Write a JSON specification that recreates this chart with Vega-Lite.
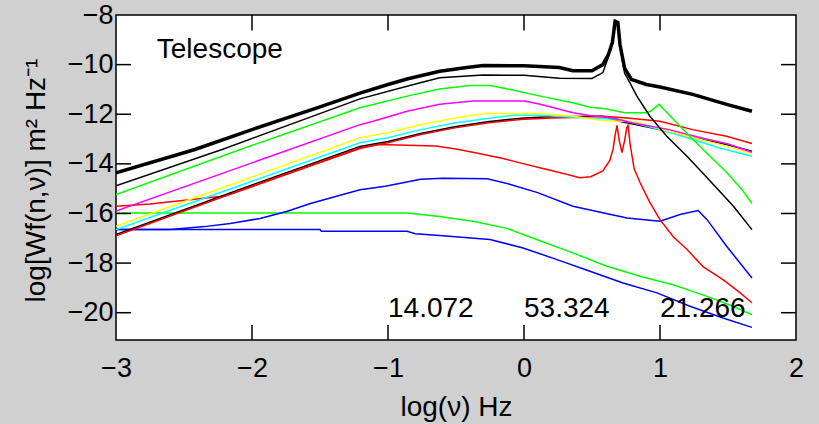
{
  "$schema": "https://vega.github.io/schema/vega-lite/v6.json",
  "width": 680,
  "height": 325,
  "autosize": "none",
  "padding": {"left": 116, "top": 15, "right": 23, "bottom": 84},
  "background": "#d0d0d0",
  "config": {
    "view": {"fill": "white", "stroke": "black", "strokeWidth": 1.5},
    "font": "Liberation Sans",
    "axis": {
      "grid": false,
      "domain": false,
      "ticks": false,
      "labelColor": "black",
      "labelFont": "Liberation Sans",
      "labelFontSize": 27,
      "labelOverlap": false,
      "labelFlush": false,
      "titleFont": "Liberation Sans",
      "titleFontSize": 28,
      "titleFontWeight": "normal",
      "titleColor": "black"
    }
  },
  "datasets": {
    "curves": [
      {"s": "blue2", "x": -3, "y": -16.65}, {"s": "blue2", "x": -1.5, "y": -16.65}, {"s": "blue2", "x": -1.49, "y": -16.72}, {"s": "blue2", "x": -0.86, "y": -16.72}, {"s": "blue2", "x": -0.8, "y": -16.82}, {"s": "blue2", "x": -0.62, "y": -16.89}, {"s": "blue2", "x": -0.25, "y": -17.05}, {"s": "blue2", "x": -0.007, "y": -17.39}, {"s": "blue2", "x": 0.243, "y": -17.86}, {"s": "blue2", "x": 0.485, "y": -18.33}, {"s": "blue2", "x": 0.728, "y": -18.8}, {"s": "blue2", "x": 0.978, "y": -19.2}, {"s": "blue2", "x": 1.22, "y": -19.74}, {"s": "blue2", "x": 1.463, "y": -20.21}, {"s": "blue2", "x": 1.676, "y": -20.59},

      {"s": "green2", "x": -3, "y": -15.98}, {"s": "green2", "x": -0.86, "y": -15.98}, {"s": "green2", "x": -0.62, "y": -16.12}, {"s": "green2", "x": -0.375, "y": -16.31}, {"s": "green2", "x": -0.125, "y": -16.6}, {"s": "green2", "x": 0.118, "y": -17.1}, {"s": "green2", "x": 0.36, "y": -17.59}, {"s": "green2", "x": 0.61, "y": -18.13}, {"s": "green2", "x": 0.853, "y": -18.53}, {"s": "green2", "x": 1.096, "y": -18.87}, {"s": "green2", "x": 1.346, "y": -19.34}, {"s": "green2", "x": 1.537, "y": -19.74}, {"s": "green2", "x": 1.676, "y": -20.08},

      {"s": "blue1", "x": -3, "y": -16.65}, {"s": "blue1", "x": -2.6, "y": -16.65}, {"s": "blue1", "x": -2.35, "y": -16.53}, {"s": "blue1", "x": -2.16, "y": -16.4}, {"s": "blue1", "x": -1.94, "y": -16.2}, {"s": "blue1", "x": -1.74, "y": -15.91}, {"s": "blue1", "x": -1.57, "y": -15.6}, {"s": "blue1", "x": -1.206, "y": -15.04}, {"s": "blue1", "x": -1.02, "y": -14.9}, {"s": "blue1", "x": -0.76, "y": -14.62}, {"s": "blue1", "x": -0.6, "y": -14.58}, {"s": "blue1", "x": -0.27, "y": -14.6}, {"s": "blue1", "x": -0.1, "y": -14.83}, {"s": "blue1", "x": 0.1, "y": -15.16}, {"s": "blue1", "x": 0.36, "y": -15.71}, {"s": "blue1", "x": 0.757, "y": -16.18}, {"s": "blue1", "x": 1.0, "y": -16.31}, {"s": "blue1", "x": 1.147, "y": -16.04}, {"s": "blue1", "x": 1.28, "y": -15.88}, {"s": "blue1", "x": 1.346, "y": -16.25}, {"s": "blue1", "x": 1.49, "y": -17.32}, {"s": "blue1", "x": 1.676, "y": -18.6},

      {"s": "red2", "x": -3, "y": -15.71}, {"s": "red2", "x": -2.75, "y": -15.62}, {"s": "red2", "x": -2.46, "y": -15.45}, {"s": "red2", "x": -2.2, "y": -15.3}, {"s": "red2", "x": -2.0, "y": -14.92}, {"s": "red2", "x": -1.5, "y": -13.95}, {"s": "red2", "x": -1.2, "y": -13.37}, {"s": "red2", "x": -1.07, "y": -13.22}, {"s": "red2", "x": -0.65, "y": -13.28}, {"s": "red2", "x": -0.5, "y": -13.4}, {"s": "red2", "x": -0.35, "y": -13.56}, {"s": "red2", "x": -0.17, "y": -13.76}, {"s": "red2", "x": -0.03, "y": -13.96}, {"s": "red2", "x": 0.17, "y": -14.23}, {"s": "red2", "x": 0.32, "y": -14.43}, {"s": "red2", "x": 0.41, "y": -14.56}, {"s": "red2", "x": 0.49, "y": -14.52}, {"s": "red2", "x": 0.58, "y": -14.28}, {"s": "red2", "x": 0.632, "y": -13.85}, {"s": "red2", "x": 0.655, "y": -13.4}, {"s": "red2", "x": 0.668, "y": -12.9}, {"s": "red2", "x": 0.684, "y": -12.45}, {"s": "red2", "x": 0.7, "y": -13.05}, {"s": "red2", "x": 0.72, "y": -13.55}, {"s": "red2", "x": 0.74, "y": -13.05}, {"s": "red2", "x": 0.755, "y": -12.55}, {"s": "red2", "x": 0.765, "y": -12.45}, {"s": "red2", "x": 0.78, "y": -13.2}, {"s": "red2", "x": 0.81, "y": -14.2}, {"s": "red2", "x": 0.853, "y": -14.75}, {"s": "red2", "x": 0.926, "y": -15.56}, {"s": "red2", "x": 1.0, "y": -16.25}, {"s": "red2", "x": 1.096, "y": -16.93}, {"s": "red2", "x": 1.199, "y": -17.45}, {"s": "red2", "x": 1.316, "y": -18.14}, {"s": "red2", "x": 1.463, "y": -18.67}, {"s": "red2", "x": 1.588, "y": -19.19}, {"s": "red2", "x": 1.676, "y": -19.6},

      {"s": "black2", "x": -3, "y": -16.85}, {"s": "black2", "x": -2, "y": -14.85}, {"s": "black2", "x": -1.206, "y": -13.3}, {"s": "black2", "x": -1.0, "y": -13.1}, {"s": "black2", "x": -0.76, "y": -12.78}, {"s": "black2", "x": -0.51, "y": -12.5}, {"s": "black2", "x": -0.27, "y": -12.3}, {"s": "black2", "x": 0.0, "y": -12.15}, {"s": "black2", "x": 0.2, "y": -12.1}, {"s": "black2", "x": 0.58, "y": -12.08}, {"s": "black2", "x": 0.7, "y": -12.28}, {"s": "black2", "x": 1.0, "y": -12.62}, {"s": "black2", "x": 1.24, "y": -12.95}, {"s": "black2", "x": 1.49, "y": -13.22}, {"s": "black2", "x": 1.676, "y": -13.49},

      {"s": "red1", "x": -3, "y": -16.9}, {"s": "red1", "x": -2, "y": -14.9}, {"s": "red1", "x": -1.206, "y": -13.35}, {"s": "red1", "x": -1.0, "y": -13.15}, {"s": "red1", "x": -0.76, "y": -12.82}, {"s": "red1", "x": -0.51, "y": -12.55}, {"s": "red1", "x": -0.27, "y": -12.35}, {"s": "red1", "x": -0.03, "y": -12.21}, {"s": "red1", "x": 0.2, "y": -12.15}, {"s": "red1", "x": 0.45, "y": -12.12}, {"s": "red1", "x": 0.58, "y": -12.08}, {"s": "red1", "x": 0.76, "y": -12.15}, {"s": "red1", "x": 1.0, "y": -12.28}, {"s": "red1", "x": 1.24, "y": -12.62}, {"s": "red1", "x": 1.49, "y": -12.89}, {"s": "red1", "x": 1.676, "y": -13.18},

      {"s": "cyan", "x": -3, "y": -16.65}, {"s": "cyan", "x": -2, "y": -14.7}, {"s": "cyan", "x": -1.206, "y": -13.15}, {"s": "cyan", "x": -1.0, "y": -12.95}, {"s": "cyan", "x": -0.76, "y": -12.62}, {"s": "cyan", "x": -0.51, "y": -12.35}, {"s": "cyan", "x": -0.27, "y": -12.17}, {"s": "cyan", "x": -0.07, "y": -12.04}, {"s": "cyan", "x": 0.12, "y": -12.04}, {"s": "cyan", "x": 0.45, "y": -12.15}, {"s": "cyan", "x": 0.7, "y": -12.2}, {"s": "cyan", "x": 1.0, "y": -12.62}, {"s": "cyan", "x": 1.2, "y": -12.95}, {"s": "cyan", "x": 1.44, "y": -13.36}, {"s": "cyan", "x": 1.676, "y": -13.69},

      {"s": "yellow", "x": -3, "y": -16.52}, {"s": "yellow", "x": -2, "y": -14.53}, {"s": "yellow", "x": -1.206, "y": -12.95}, {"s": "yellow", "x": -1.0, "y": -12.75}, {"s": "yellow", "x": -0.76, "y": -12.42}, {"s": "yellow", "x": -0.51, "y": -12.15}, {"s": "yellow", "x": -0.29, "y": -11.97}, {"s": "yellow", "x": 0.12, "y": -11.97}, {"s": "yellow", "x": 0.36, "y": -12.08}, {"s": "yellow", "x": 0.58, "y": -12.25}, {"s": "yellow", "x": 0.82, "y": -12.3}, {"s": "yellow", "x": 1.0, "y": -12.59}, {"s": "yellow", "x": 1.2, "y": -12.89}, {"s": "yellow", "x": 1.44, "y": -13.22}, {"s": "yellow", "x": 1.676, "y": -13.58},

      {"s": "magenta", "x": -3, "y": -15.9}, {"s": "magenta", "x": -2, "y": -13.96}, {"s": "magenta", "x": -1.206, "y": -12.42}, {"s": "magenta", "x": -1.11, "y": -12.28}, {"s": "magenta", "x": -0.86, "y": -11.88}, {"s": "magenta", "x": -0.62, "y": -11.6}, {"s": "magenta", "x": -0.375, "y": -11.47}, {"s": "magenta", "x": 0.0, "y": -11.47}, {"s": "magenta", "x": 0.12, "y": -11.6}, {"s": "magenta", "x": 0.36, "y": -11.94}, {"s": "magenta", "x": 0.485, "y": -12.05}, {"s": "magenta", "x": 0.65, "y": -12.15}, {"s": "magenta", "x": 0.8, "y": -12.35}, {"s": "magenta", "x": 1.05, "y": -12.6}, {"s": "magenta", "x": 1.3, "y": -12.95}, {"s": "magenta", "x": 1.5, "y": -13.2}, {"s": "magenta", "x": 1.676, "y": -13.53},

      {"s": "green1", "x": -3, "y": -15.24}, {"s": "green1", "x": -2.1, "y": -13.45}, {"s": "green1", "x": -1.206, "y": -11.74}, {"s": "green1", "x": -0.86, "y": -11.27}, {"s": "green1", "x": -0.62, "y": -10.98}, {"s": "green1", "x": -0.4, "y": -10.84}, {"s": "green1", "x": -0.25, "y": -10.84}, {"s": "green1", "x": -0.12, "y": -10.98}, {"s": "green1", "x": 0.12, "y": -11.27}, {"s": "green1", "x": 0.36, "y": -11.54}, {"s": "green1", "x": 0.485, "y": -11.72}, {"s": "green1", "x": 0.6, "y": -11.78}, {"s": "green1", "x": 0.74, "y": -11.94}, {"s": "green1", "x": 0.9, "y": -11.94}, {"s": "green1", "x": 0.93, "y": -11.88}, {"s": "green1", "x": 0.993, "y": -11.6}, {"s": "green1", "x": 1.125, "y": -12.35}, {"s": "green1", "x": 1.243, "y": -13.02}, {"s": "green1", "x": 1.368, "y": -13.69}, {"s": "green1", "x": 1.493, "y": -14.36}, {"s": "green1", "x": 1.603, "y": -15.04}, {"s": "green1", "x": 1.676, "y": -15.6},

      {"s": "black1", "x": -3, "y": -14.88}, {"s": "black1", "x": -2.22, "y": -13.42}, {"s": "black1", "x": -1.206, "y": -11.38}, {"s": "black1", "x": -0.84, "y": -10.84}, {"s": "black1", "x": -0.62, "y": -10.53}, {"s": "black1", "x": -0.3, "y": -10.42}, {"s": "black1", "x": 0.0, "y": -10.43}, {"s": "black1", "x": 0.26, "y": -10.55}, {"s": "black1", "x": 0.5, "y": -10.56}, {"s": "black1", "x": 0.58, "y": -10.32}, {"s": "black1", "x": 0.62, "y": -9.7}, {"s": "black1", "x": 0.65, "y": -9.15}, {"s": "black1", "x": 0.67, "y": -8.35}, {"s": "black1", "x": 0.69, "y": -8.4}, {"s": "black1", "x": 0.706, "y": -9.3}, {"s": "black1", "x": 0.74, "y": -10.35}, {"s": "black1", "x": 0.78, "y": -10.75}, {"s": "black1", "x": 0.83, "y": -11.27}, {"s": "black1", "x": 0.926, "y": -12.08}, {"s": "black1", "x": 1.05, "y": -12.89}, {"s": "black1", "x": 1.2, "y": -13.7}, {"s": "black1", "x": 1.345, "y": -14.55}, {"s": "black1", "x": 1.54, "y": -15.71}, {"s": "black1", "x": 1.676, "y": -16.65}
    ],
    "bold": [
      {"x": -3, "y": -14.36}, {"x": -2.42, "y": -13.42}, {"x": -2, "y": -12.62}, {"x": -1.5, "y": -11.7}, {"x": -1.2, "y": -11.14}, {"x": -1.0, "y": -10.8}, {"x": -0.86, "y": -10.58}, {"x": -0.62, "y": -10.27}, {"x": -0.42, "y": -10.12}, {"x": -0.3, "y": -10.04}, {"x": 0.0, "y": -10.05}, {"x": 0.26, "y": -10.12}, {"x": 0.36, "y": -10.25}, {"x": 0.5, "y": -10.25}, {"x": 0.58, "y": -10.0}, {"x": 0.62, "y": -9.6}, {"x": 0.65, "y": -9.1}, {"x": 0.67, "y": -8.25}, {"x": 0.69, "y": -8.3}, {"x": 0.706, "y": -9.2}, {"x": 0.74, "y": -10.15}, {"x": 0.79, "y": -10.6}, {"x": 0.9, "y": -10.8}, {"x": 1.0, "y": -10.9}, {"x": 1.24, "y": -11.2}, {"x": 1.49, "y": -11.6}, {"x": 1.676, "y": -11.88}
    ],
    "xticks": [{"x": -2}, {"x": -1}, {"x": 0}, {"x": 1}],
    "yticks": [{"y": -20}, {"y": -18}, {"y": -16}, {"y": -14}, {"y": -12}, {"y": -10}],
    "notes": [
      {"label": "Telescope", "x": -2.7, "y": -9.73},
      {"label": "14.072", "x": -1, "y": -20.16},
      {"label": "53.324", "x": 0, "y": -20.16},
      {"label": "21.266", "x": 1, "y": -20.16}
    ]
  },
  "resolve": {"axis": {"x": "independent", "y": "independent"}},
  "layer": [
    {
      "data": {"name": "curves"},
      "mark": {"type": "line", "strokeWidth": 1.5, "clip": true},
      "encoding": {
        "x": {
          "field": "x", "type": "quantitative",
          "scale": {"domain": [-3, 2], "nice": false, "zero": false},
          "axis": {
            "orient": "bottom", "values": [-3, -2, -1, 0, 1, 2], "format": "d",
            "labelPadding": 15, "title": "log(ν) Hz",
            "titleX": 340, "titleY": 75, "titleAlign": "center", "titleBaseline": "alphabetic", "titleAnchor": null
          }
        },
        "y": {
          "field": "y", "type": "quantitative",
          "scale": {"domain": [-21.1, -8], "nice": false, "zero": false},
          "axis": {
            "orient": "left", "values": [-20, -18, -16, -14, -12, -10, -8], "format": "d",
            "labelPadding": 3, "title": "log[Wf(n,ν)] m² Hz⁻¹",
            "titleX": -80, "titleY": 165, "titleAngle": 270, "titleAlign": "center", "titleBaseline": "middle"
          }
        },
        "color": {
          "field": "s", "type": "nominal", "legend": null,
          "scale": {
            "domain": ["blue2", "green2", "blue1", "red2", "black2", "red1", "cyan", "yellow", "magenta", "green1", "black1"],
            "range": ["#0000ff", "#00ff00", "#0000ff", "#ff0000", "#000000", "#ff0000", "#00ffff", "#ffff00", "#ff00ff", "#00ff00", "#000000"]
          }
        }
      }
    },
    {
      "data": {"name": "bold"},
      "mark": {"type": "line", "strokeWidth": 3.5, "color": "black", "clip": true},
      "encoding": {
        "x": {"field": "x", "type": "quantitative", "scale": {"domain": [-3, 2], "nice": false, "zero": false}, "axis": null},
        "y": {"field": "y", "type": "quantitative", "scale": {"domain": [-21.1, -8], "nice": false, "zero": false}, "axis": null}
      }
    },
    {
      "data": {"name": "xticks"},
      "mark": {"type": "rule", "strokeWidth": 1.5, "color": "black"},
      "encoding": {
        "x": {"field": "x", "type": "quantitative", "scale": {"domain": [-3, 2], "nice": false, "zero": false}, "axis": null},
        "y": {"datum": -21.1, "type": "quantitative", "scale": {"domain": [-21.1, -8], "nice": false, "zero": false}, "axis": null},
        "y2": {"datum": -20.5}
      }
    },
    {
      "data": {"name": "xticks"},
      "mark": {"type": "rule", "strokeWidth": 1.5, "color": "black"},
      "encoding": {
        "x": {"field": "x", "type": "quantitative", "scale": {"domain": [-3, 2], "nice": false, "zero": false}, "axis": null},
        "y": {"datum": -8, "type": "quantitative", "scale": {"domain": [-21.1, -8], "nice": false, "zero": false}, "axis": null},
        "y2": {"datum": -8.62}
      }
    },
    {
      "data": {"name": "yticks"},
      "mark": {"type": "rule", "strokeWidth": 1.5, "color": "black"},
      "encoding": {
        "x": {"datum": -3, "type": "quantitative", "scale": {"domain": [-3, 2], "nice": false, "zero": false}, "axis": null},
        "x2": {"datum": -2.89},
        "y": {"field": "y", "type": "quantitative", "scale": {"domain": [-21.1, -8], "nice": false, "zero": false}, "axis": null}
      }
    },
    {
      "data": {"name": "yticks"},
      "mark": {"type": "rule", "strokeWidth": 1.5, "color": "black"},
      "encoding": {
        "x": {"datum": 2, "type": "quantitative", "scale": {"domain": [-3, 2], "nice": false, "zero": false}, "axis": null},
        "x2": {"datum": 1.89},
        "y": {"field": "y", "type": "quantitative", "scale": {"domain": [-21.1, -8], "nice": false, "zero": false}, "axis": null}
      }
    },
    {
      "data": {"name": "notes"},
      "mark": {"type": "text", "align": "left", "baseline": "alphabetic", "font": "Liberation Sans", "fontSize": 28, "color": "black"},
      "encoding": {
        "x": {"field": "x", "type": "quantitative", "scale": {"domain": [-3, 2], "nice": false, "zero": false}, "axis": null},
        "y": {"field": "y", "type": "quantitative", "scale": {"domain": [-21.1, -8], "nice": false, "zero": false}, "axis": null},
        "text": {"field": "label", "type": "nominal"}
      }
    }
  ]
}
